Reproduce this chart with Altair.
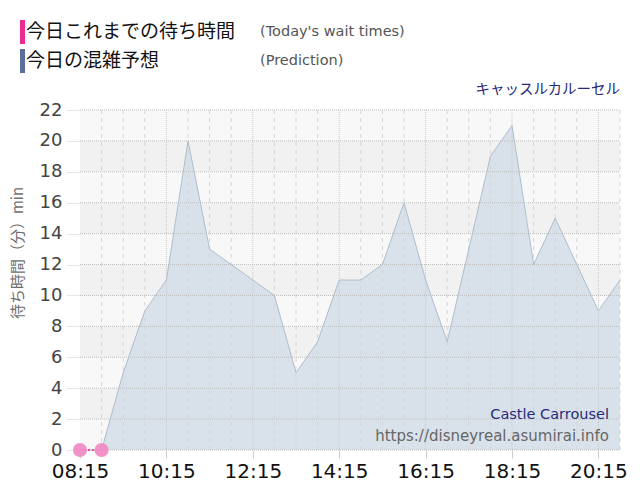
import altair as alt
import pandas as pd

# ---- data ----
pred_times = ["08:15", "08:45", "09:15", "09:45", "10:15", "10:45", "11:15", "11:45",
              "12:15", "12:45", "13:15", "13:45", "14:15", "14:45", "15:15", "15:45",
              "16:15", "16:45", "17:15", "17:45", "18:15", "18:45", "19:15", "19:45",
              "20:15", "20:45"]
pred_values = [0, 0, 5, 9, 11, 20, 13, 12,
               11, 10, 5, 7, 11, 11, 12, 16,
               11, 7, 13, 19, 21, 12, 15, 12,
               9, 11]
actual_times = ["08:15", "08:45"]
actual_values = [0, 0]
x_tick_labels = ["08:15", "10:15", "12:15", "14:15", "16:15", "18:15", "20:15"]
y_ticks = list(range(0, 23, 2))
band_starts = list(range(0, 22, 2))
band_fills = ["#f8f8f8" if (i % 2 == 0) else "#f1f1f1" for i in range(len(band_starts))]

legend_labels = ["今日これまでの待ち時間", "今日の混雑予想"]
legend_sub = ["(Today's wait times)", "(Prediction)"]
legend_colors = ["#ee2a8e", "#5b6e9c"]
title_jp = "キャッスルカルーセル"
name_en = "Castle Carrousel"
site = "https://disneyreal.asumirai.info"
y_title = "待ち時間（分）min"


def to_min(t):
    h, m = t.split(":")
    return int(h) * 60 + int(m)


pred = pd.DataFrame({"t": [to_min(t) for t in pred_times], "v": pred_values})
actual = pd.DataFrame({"t": [to_min(t) for t in actual_times], "v": actual_values})
major = [to_min(t) for t in x_tick_labels]
minor = [to_min(t) for t in pred_times if to_min(t) not in major and to_min(t) != pred["t"].min()]
bands = pd.DataFrame({"y0": band_starts, "y1": [b + 2 for b in band_starts], "fill": band_fills})

W, H = 540, 340
xdom = [pred["t"].min(), pred["t"].max()]
xs = alt.Scale(domain=xdom, nice=False, zero=False)
ys = alt.Scale(domain=[0, 22], nice=False, zero=True)

label_expr = ("(floor(datum.value/60)<10?'0':'') + floor(datum.value/60) + ':' + "
              "(datum.value%60<10?'0':'') + (datum.value%60)")

y_axis = alt.Axis(values=y_ticks, grid=False, domain=True,
                  domainColor="#a9adb8", ticks=True, tickSize=14,
                  tickColor="#cccccc", tickDash=[1, 1],
                  labelFontSize=18, labelColor="#444444",
                  labelFont="DejaVu Sans", labelPadding=4,
                  labelOverlap=False, labelFlush=False, title=None)
x_axis = alt.Axis(values=major, labelExpr=label_expr, grid=False,
                  domain=False, tickSize=8, tickColor="#cccccc",
                  labelFontSize=20, labelColor="#111111",
                  labelFont="DejaVu Sans", labelPadding=3,
                  labelOverlap=False, labelFlush=False, title=None)

band_layer = alt.Chart(bands).mark_rect().encode(
    x=alt.value(0), x2=alt.value(W),
    y=alt.Y("y0:Q", scale=ys, axis=y_axis),
    y2="y1:Q",
    color=alt.Color("fill:N", scale=None),
)

area = alt.Chart(pred).mark_area(color="#d6e0e9", opacity=0.92).encode(
    x=alt.X("t:Q", scale=xs, axis=x_axis),
    y=alt.Y("v:Q", scale=ys, axis=y_axis),
)
area_line = alt.Chart(pred).mark_line(color="#aebdcc", strokeWidth=1).encode(
    x=alt.X("t:Q", scale=xs, axis=x_axis), y=alt.Y("v:Q", scale=ys, axis=y_axis))

minor_rules = alt.Chart(pd.DataFrame({"t": minor})).mark_rule(
    color="#d6d6d6", strokeDash=[4, 4], strokeWidth=1).encode(
    x=alt.X("t:Q", scale=xs, axis=x_axis), y=alt.value(0), y2=alt.value(H))
major_rules = alt.Chart(pd.DataFrame({"t": major[1:]})).mark_rule(
    color="#c8c8c8", strokeDash=[1, 1], strokeWidth=1).encode(
    x=alt.X("t:Q", scale=xs, axis=x_axis), y=alt.value(0), y2=alt.value(H))
h_rules = alt.Chart(pd.DataFrame({"v": y_ticks})).mark_rule(
    color="#bdbdbd", strokeDash=[1, 1], strokeWidth=1).encode(
    y=alt.Y("v:Q", scale=ys, axis=y_axis), x=alt.value(0), x2=alt.value(W))

act_line = alt.Chart(actual).mark_line(color="#e8288c", strokeDash=[2, 2], strokeWidth=1.5).encode(
    x=alt.X("t:Q", scale=xs, axis=x_axis), y=alt.Y("v:Q", scale=ys, axis=y_axis))
act_pts = alt.Chart(actual).mark_circle(color="#f08cc6", opacity=0.95, size=200).encode(
    x=alt.X("t:Q", scale=xs, axis=x_axis), y=alt.Y("v:Q", scale=ys, axis=y_axis))

# legend and annotations (decorations placed in pixel space)
leg_df = pd.DataFrame({"lab": legend_labels, "sub": legend_sub, "col": legend_colors,
                       "yc": [-78, -49]})
leg_bars = alt.Chart(leg_df).transform_calculate(
    top="datum.yc-12", bot="datum.yc+12").mark_rect().encode(
    x=alt.value(-60), x2=alt.value(-55),
    y=alt.Y("top:Q", scale=None), y2=alt.Y2("bot:Q"),
    color=alt.Color("col:N", scale=None),
)
leg_text = alt.Chart(leg_df).mark_text(align="left", baseline="middle", fontSize=19,
                                       font="Noto Sans CJK JP", color="#111111").encode(
    x=alt.value(-54), y=alt.Y("yc:Q", scale=None), text="lab:N")
leg_sub = alt.Chart(leg_df).mark_text(align="left", baseline="middle", fontSize=14.5,
                                      font="DejaVu Sans", color="#555555").encode(
    x=alt.value(180), y=alt.Y("yc:Q", scale=None), text="sub:N")

title_t = alt.Chart(pd.DataFrame({"s": [title_jp]})).mark_text(
    align="right", baseline="middle", fontSize=14.5, font="Noto Sans CJK JP", color="#262a78").encode(
    x=alt.value(W), y=alt.value(-20), text="s:N")
name_t = alt.Chart(pd.DataFrame({"s": [name_en]})).mark_text(
    align="right", baseline="middle", fontSize=14.5, font="DejaVu Sans", color="#262a78").encode(
    x=alt.value(529), y=alt.value(305), text="s:N")
site_t = alt.Chart(pd.DataFrame({"s": [site]})).mark_text(
    align="right", baseline="middle", fontSize=15, font="DejaVu Sans", color="#666666").encode(
    x=alt.value(529), y=alt.value(326), text="s:N")
ytitle_t = alt.Chart(pd.DataFrame({"s": [y_title]})).mark_text(
    align="center", baseline="middle", fontSize=15, font="Noto Sans CJK JP", color="#707070",
    angle=270).encode(x=alt.value(-62), y=alt.value(143), text="s:N")

chart = alt.layer(
    band_layer, area, minor_rules, major_rules, h_rules, area_line, act_line, act_pts,
    leg_bars, leg_text, leg_sub, title_t, name_t, site_t, ytitle_t
).properties(
    width=W, height=H,
    autosize=alt.AutoSizeParams(type="none"),
    padding={"left": 72, "top": 102, "right": 12, "bottom": 42},
    background="white",
).configure_view(stroke=None).configure_axis(labelOverlap=False)

chart.save("out.html", embed_options={"renderer": "svg", "actions": False})
